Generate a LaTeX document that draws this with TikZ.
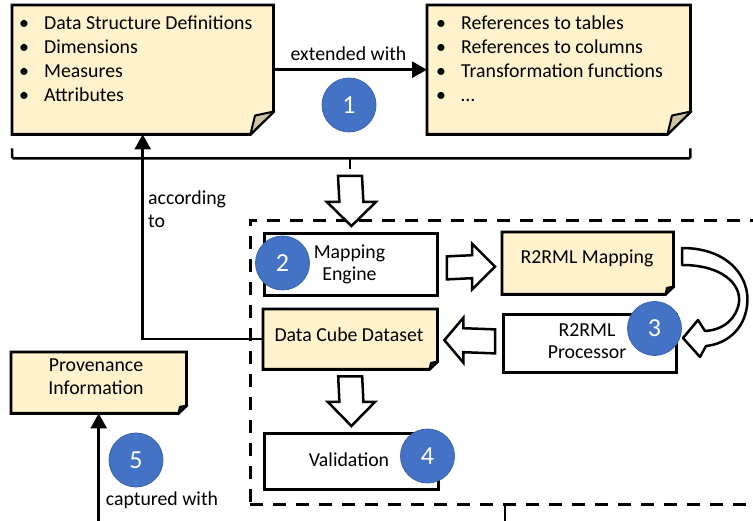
\documentclass[tikz,border=0pt]{standalone}
\usepackage{fontspec}
\setmainfont{Carlito}
\usetikzlibrary{calc,arrows.meta}
\definecolor{noteyellow}{HTML}{FFF2CC}
\definecolor{foldcol}{HTML}{CDC2A4}
\definecolor{darkfold}{HTML}{2A2A2A}
\definecolor{numblue}{HTML}{4472C4}
\definecolor{numedge}{HTML}{3B64AE}
\newcommand\notebox[3]{%
  \draw[noteline, fill=noteyellow] (#1.north west) -- (#1.north east)
    -- ([yshift=#2pt]#1.south east) -- ([xshift=-#2pt]#1.south east)
    -- (#1.south west) -- cycle;
  \draw[foldline, fill=#3] ([xshift=-#2pt]#1.south east)
    -- ([xshift=-0.8*#2pt, yshift=0.82*#2pt]#1.south east)
    -- ([xshift=1pt, yshift=#2pt]#1.south east) -- cycle;
}
\begin{document}
\begin{tikzpicture}[x=1pt,y=-1pt,
  every node/.style={font=\fontsize{19.8}{23.5}\selectfont},
  boxbase/.style={rectangle, inner sep=0pt, anchor=north west},
  whitebox/.style={boxbase, draw, line width=2.8pt, fill=white},
  notebase/.style={boxbase},
  noteline/.style={line width=2.8pt, line join=miter},
  foldline/.style={line width=2pt, line join=round},
  txt/.style={inner sep=0pt, anchor=base},
  bul/.style={inner sep=0pt, anchor=base west},
  arr/.style={line width=2.5pt, -{Triangle[length=15pt, width=16pt]}},
  plain/.style={line width=2.5pt},
  block/.style={line width=2.5pt, fill=white, line join=miter},
  dashbox/.style={boxbase, draw, line width=2.6pt, dash pattern=on 13pt off 10pt},
  numcirc/.style={circle, fill=numblue, draw=numedge, line width=0.8pt,
    minimum size=54pt, inner sep=0pt, text=white,
    font=\fontsize{26}{30}\selectfont}]
\useasboundingbox (0,0) rectangle (753,521);
\clip (0,0) rectangle (753,521);

% dashed container
\node[dashbox, minimum width=540pt, minimum height=284pt] (engine) at (249,219) {};
\coordinate (tfoot) at (505,530);
\draw[plain] (engine.south -| tfoot) -- (tfoot);

% top notes
\node[notebase, minimum width=261pt, minimum height=129pt] (defs) at (12,5) {};
\node[notebase, minimum width=263pt, minimum height=129pt] (refs) at (427,5) {};
\notebox{defs}{23}{foldcol}
\notebox{refs}{23}{foldcol}
\foreach \t [count=\i] in {Data Structure Definitions, Dimensions, Measures, Attributes}
  \node[bul] (d\i) at (19,{30+24*(\i-1)}) {\makebox[25pt][l]{•}\t};
\foreach \t [count=\i] in {References to tables, References to columns, Transformation functions, …}
  \node[bul] (r\i) at (436,{30+24*(\i-1)}) {\makebox[25pt][l]{•}\t};

\draw[arr] (defs) -- (refs);
\node[txt] (extlbl) at (348.5,61) {extended with};
\node[numcirc] (c1) at (349,105) {1};

% bracket
\coordinate (brk) at (350,169);
\draw[plain, rounded corners=1.5pt] ([yshift=-14pt]defs.south west) -- ([yshift=-24pt]defs.south west)
  -- ([yshift=-24pt]refs.south east) -- ([yshift=-14pt]refs.south east);
\draw[plain] (brk |- 0,158) -- (brk);

% inner boxes
\node[whitebox, minimum width=173pt, minimum height=62pt] (mapeng) at (263,232) {};
\node[notebase, minimum width=171pt, minimum height=62pt] (r2map) at (502,232) {};
\node[whitebox, minimum width=173pt, minimum height=58pt] (proc) at (502,313) {};
\node[notebase, minimum width=174pt, minimum height=60pt] (dcd) at (263,309) {};
\node[whitebox, minimum width=174pt, minimum height=56pt] (valid) at (263,432) {};
\node[notebase, minimum width=175pt, minimum height=61pt] (prov) at (11,352) {};
\notebox{r2map}{8}{darkfold}
\notebox{dcd}{8}{darkfold}
\notebox{prov}{8}{darkfold}

\node[txt] (t1) at (349.5,259) {Mapping};
\node[txt] (t2) at (349.5,281) {Engine};
\node[txt] (t3) at (587,264) {R2RML Mapping};
\node[txt] (t4) at (587,337) {R2RML};
\node[txt] (t5) at (587,359) {Processor};
\node[txt] (t6) at (349,342) {Data Cube Dataset};
\node[txt] (t7) at (349,467) {Validation};
\node[txt] (t8) at (96,372) {Provenance};
\node[txt] (t9) at (96,395) {Information};

% block arrows
\coordinate (s1) at ($(brk)+(0,7)$);
\coordinate (e1) at ($(mapeng.north)+(0.5,-6)$);
\draw[block] ($(s1)+(-12,0)$) -- ($(e1)+(-12,-24)$) -- ($(e1)+(-24.5,-24)$) -- (e1)
  -- ($(e1)+(24.5,-24)$) -- ($(e1)+(12,-24)$) -- ($(s1)+(12,0)$) -- cycle;

\coordinate (s2) at ($(mapeng.east)+(8,3.5)$);
\coordinate (e2) at ($(r2map.west)+(-7,3.5)$);
\draw[block] ($(s2)+(0,-11.5)$) -- ($(e2)+(-23,-11.5)$) -- ($(e2)+(-23,-23)$) -- (e2)
  -- ($(e2)+(-23,23)$) -- ($(e2)+(-23,11.5)$) -- ($(s2)+(0,11.5)$) -- cycle;

\coordinate (s3) at ($(proc.west)+(-7,-2)$);
\coordinate (e3) at ($(dcd.east)+(7,1)$);
\draw[block] ($(s3)+(0,-12)$) -- ($(e3)+(19,-12)$) -- ($(e3)+(19,-22.5)$) -- (e3)
  -- ($(e3)+(19,22.5)$) -- ($(e3)+(19,12)$) -- ($(s3)+(0,12)$) -- cycle;

\coordinate (s4) at ($(dcd.south)+(0,7)$);
\coordinate (e4) at ($(valid.north)+(0,-6)$);
\draw[block] ($(s4)+(-12,0)$) -- ($(e4)+(-12,-24)$) -- ($(e4)+(-23.5,-24)$) -- (e4)
  -- ($(e4)+(23.5,-24)$) -- ($(e4)+(12,-24)$) -- ($(s4)+(12,0)$) -- cycle;

% curved block arrow
\draw[block, line join=round] (682,248) .. controls (729,248) and (751,278) .. (747,306)
  .. controls (744,330) and (726,344) .. (706,346) -- (700,357) -- (683,338) -- (698,320)
  -- (705,331) .. controls (724,330) and (737,318) .. (739,302)
  .. controls (741,284) and (722,265) .. (682,265) -- cycle;

\node[numcirc] (c2) at (282.5,263) {2};
\node[numcirc] (c3) at (654.5,328.5) {3};
\node[numcirc] (c4) at (427.5,456) {4};

% according to
\draw[arr] (dcd.west) -| (defs.south);
\node[bul] (acc1) at (148,205) {according};
\node[bul] (acc2) at (148,228) {to};

% captured with
\coordinate (capfoot) at (prov.south |- 0,530);
\draw[arr] (capfoot) -- (prov.south);
\node[numcirc] (c5) at (136,460) {5};
\node[txt] (caplbl) at (162,505) {captured with};
\end{tikzpicture}
\end{document}
